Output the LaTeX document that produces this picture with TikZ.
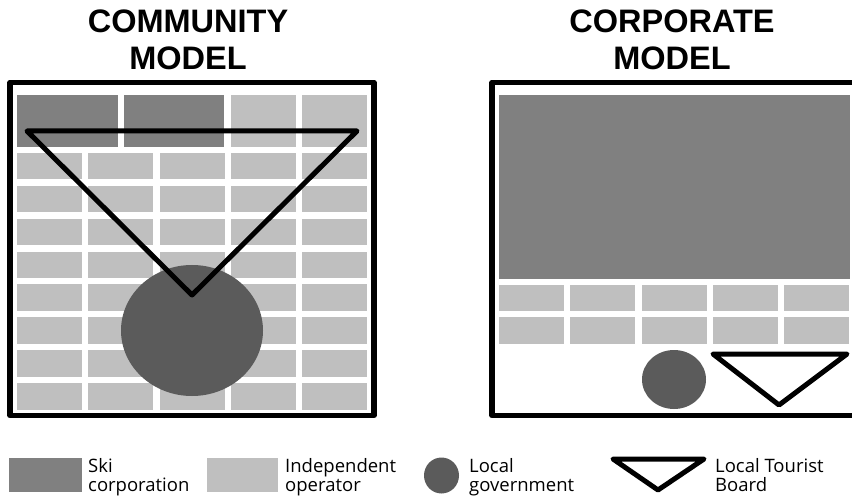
\documentclass[tikz,border=0pt]{standalone}
\usepackage{fontspec}
\setmainfont{Open Sans}
\newfontfamily\titlefont{Liberation Sans}[BoldFont={Liberation Sans Bold}]
\definecolor{skidark}{HTML}{808080}
\definecolor{indlight}{HTML}{BFBFBF}
\definecolor{govdark}{HTML}{5B5B5B}
\tikzset{
  skicell/.style={fill=skidark,draw=none},
  indcell/.style={fill=indlight,draw=none},
  govshape/.style={fill=govdark,draw=none},
  framebox/.style={draw=black,line width=5.5pt,line join=round},
  boardtri/.style={draw=black,line width=5pt,line join=round,line cap=round},
  titletext/.style={font=\titlefont\bfseries\fontsize{32.5}{36}\selectfont,inner sep=0pt,anchor=base},
  legtext/.style={font=\fontsize{18.5}{19}\selectfont,anchor=base west,inner sep=0pt},
}
\begin{document}
\begin{tikzpicture}[x=1pt,y=-1pt]
\useasboundingbox (0,0) rectangle (852,497);
\clip (0,0) rectangle (852,497);
% Titles
\node[titletext] (t1a) at (188,33) {COMMUNITY};
\node[titletext] (t1b) at (188,70) {MODEL};
\node[titletext] (t2a) at (672,33) {CORPORATE};
\node[titletext] (t2b) at (672,70) {MODEL};
% ---- Community model ----
\fill[skicell] (17,95) rectangle (118,147);
\fill[skicell] (124,95) rectangle (224,147);
\fill[indcell] (231,95) rectangle (296,147);
\fill[indcell] (302,95) rectangle (367,147);
\foreach \j in {0,...,7}{
  \foreach \i in {0,...,4}{
    \fill[indcell] ({17+71.25*\i},{153+32.86*\j}) rectangle ++(65,26.5);
  }
}
\fill[govshape] (192,330.5) ellipse [x radius=71, y radius=65.5];
\draw[boardtri] (27,131) -- (357,131) -- (192,295) -- cycle;
\draw[framebox] (10,82.5) rectangle (374,415.5);
% ---- Corporate model ----
\fill[skicell] (499,95) rectangle (850,279);
\foreach \j in {0,1}{
  \foreach \i in {0,...,4}{
    \fill[indcell] ({499+71.25*\i},{285+32.3*\j}) rectangle ++(65,26.5);
  }
}
\fill[govshape] (674,379.5) ellipse [x radius=32, y radius=29.5];
\draw[boardtri] (713,354) -- (847,354) -- (779,405) -- cycle;
\draw[framebox] (492,82.5) rectangle (880,415.5);
% ---- Legend ----
\fill[skicell] (9,458) rectangle (82,492);
\node[legtext] (l1a) at (88,472) {Ski};
\node[legtext] (l1b) at (88,491) {corporation};
\fill[indcell] (207,458) rectangle (278,492);
\node[legtext] (l2a) at (285,472) {Independent};
\node[legtext] (l2b) at (285,491) {operator};
\fill[govshape] (441.5,475.5) ellipse [x radius=17.5, y radius=18];
\node[legtext] (l3a) at (469,472) {Local};
\node[legtext] (l3b) at (469,491) {government};
\draw[boardtri] (613,459) -- (704,459) -- (658,490) -- cycle;
\node[legtext] (l4a) at (715,472) {Local Tourist};
\node[legtext] (l4b) at (715,491) {Board};
\end{tikzpicture}
\end{document}
